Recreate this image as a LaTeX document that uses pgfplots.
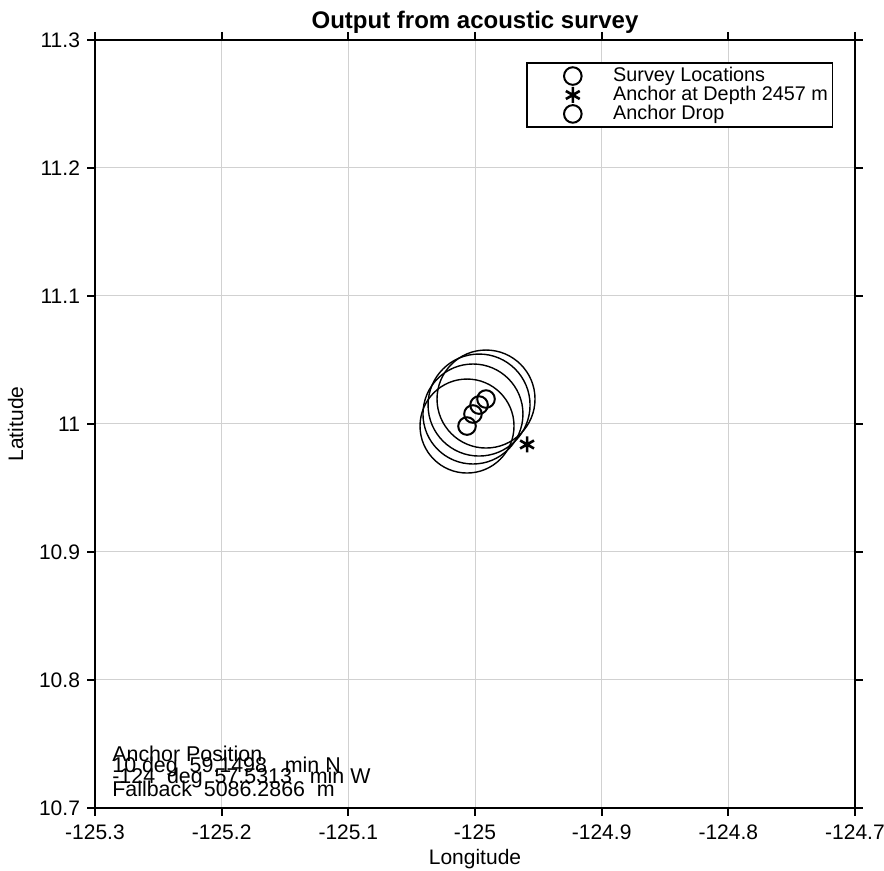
\documentclass[border=0pt]{standalone}
\usepackage{fontspec}
\setmainfont{Liberation Sans}
\usepackage{pgfplots}
\pgfplotsset{compat=1.18}
\usetikzlibrary{calc}

\begin{document}
\begin{tikzpicture}
\begin{axis}[
    scale only axis, width=380pt, height=384pt,
    xmin=-125.3, xmax=-124.7, ymin=10.7, ymax=11.3,
    xtick={-125.3,-125.2,-125.1,-125,-124.9,-124.8,-124.7},
    ytick={10.7,10.8,10.9,11,11.1,11.2,11.3},
    grid=major, grid style={black!18, line width=0.5pt},
    tick align=outside, major tick length=4pt,
    axis line style={line width=0.9pt},
    tick style={line width=0.9pt, black},
    /pgf/number format/assume math mode=true,
    ticklabel style={font=\fontsize{10.5}{12}\selectfont},
    xticklabel style={yshift=-1pt},
    title={Output from acoustic survey},
    title style={font=\bfseries\fontsize{12}{13}\selectfont, at={(0.5,1)}, anchor=south, yshift=-4pt, inner sep=1pt},
    xlabel={Longitude}, ylabel={Latitude},
    label style={font=\fontsize{10.5}{12}\selectfont},
    xlabel style={yshift=2pt},
    ylabel style={yshift=1pt},
    legend style={at={(0.971,0.971)}, anchor=north east, draw=black, line width=0.7pt,
        font=\fontsize{9.9}{10}\selectfont, inner sep=1pt, row sep=-1.6pt,
        nodes={inner sep=1.2pt}},
    legend cell align=left,
    legend image code/.code={
        \draw[#1, overlay] plot coordinates {(22pt,0pt)};
        \path[draw=none] (0pt,-3pt) rectangle (41pt,3pt);
    },
]
% survey locations
\addplot[only marks, mark=o, mark size=4.4pt, line width=1pt, black] coordinates {
    (-124.9913, 11.0195) (-124.9968, 11.0148) (-125.0063, 10.9984)
};
\addlegendentry{Survey Locations}
% anchor estimate
\addplot[only marks, mark=asterisk, mark size=4pt, line width=1.3pt, black] coordinates {
    (-124.9589, 10.9840)
};
\addlegendentry{Anchor at Depth 2457 m}
% anchor drop
\addplot[only marks, mark=o, mark size=4.4pt, line width=1pt, black] coordinates {
    (-125.0016, 11.0078)
};
\addlegendentry{Anchor Drop}
% range circles around each survey location
\addplot[forget plot, only marks, mark=o, mark size=24.5pt, line width=0.7pt, black] coordinates {(-124.9913, 11.0195)};
\addplot[forget plot, only marks, mark=o, mark size=25.5pt, line width=0.7pt, black] coordinates {(-124.9968, 11.0148)};
\addplot[forget plot, only marks, mark=o, mark size=25pt, line width=0.7pt, black] coordinates {(-125.0016, 11.0078)};
\addplot[forget plot, only marks, mark=o, mark size=23.5pt, line width=0.7pt, black] coordinates {(-125.0063, 10.9984)};

\node[anchor=base west, inner sep=0pt, font=\fontsize{10.7}{12}\selectfont] at (axis cs:-125.2866,10.7367) {Anchor Position};
\node[anchor=base west, inner sep=0pt, font=\fontsize{10.7}{12}\selectfont] at (axis cs:-125.2866,10.7281) {10 deg\ \ 59.1498\ \ \ min N};
\node[anchor=base west, inner sep=0pt, font=\fontsize{10.7}{12}\selectfont] at (axis cs:-125.2866,10.7188) {-124\ \ deg\ \ 57.5313\ \ \ min W};
\node[anchor=base west, inner sep=0pt, font=\fontsize{10.7}{12}\selectfont] at (axis cs:-125.2866,10.7086) {Fallback\ \ 5086.2866\ \ m};
\end{axis}
\pgfresetboundingbox
\path[use as bounding box] ($(current axis.south west)+(-47.5pt,-31.5pt)$) rectangle ($(current axis.north east)+(14.5pt,20pt)$);
\end{tikzpicture}
\end{document}
